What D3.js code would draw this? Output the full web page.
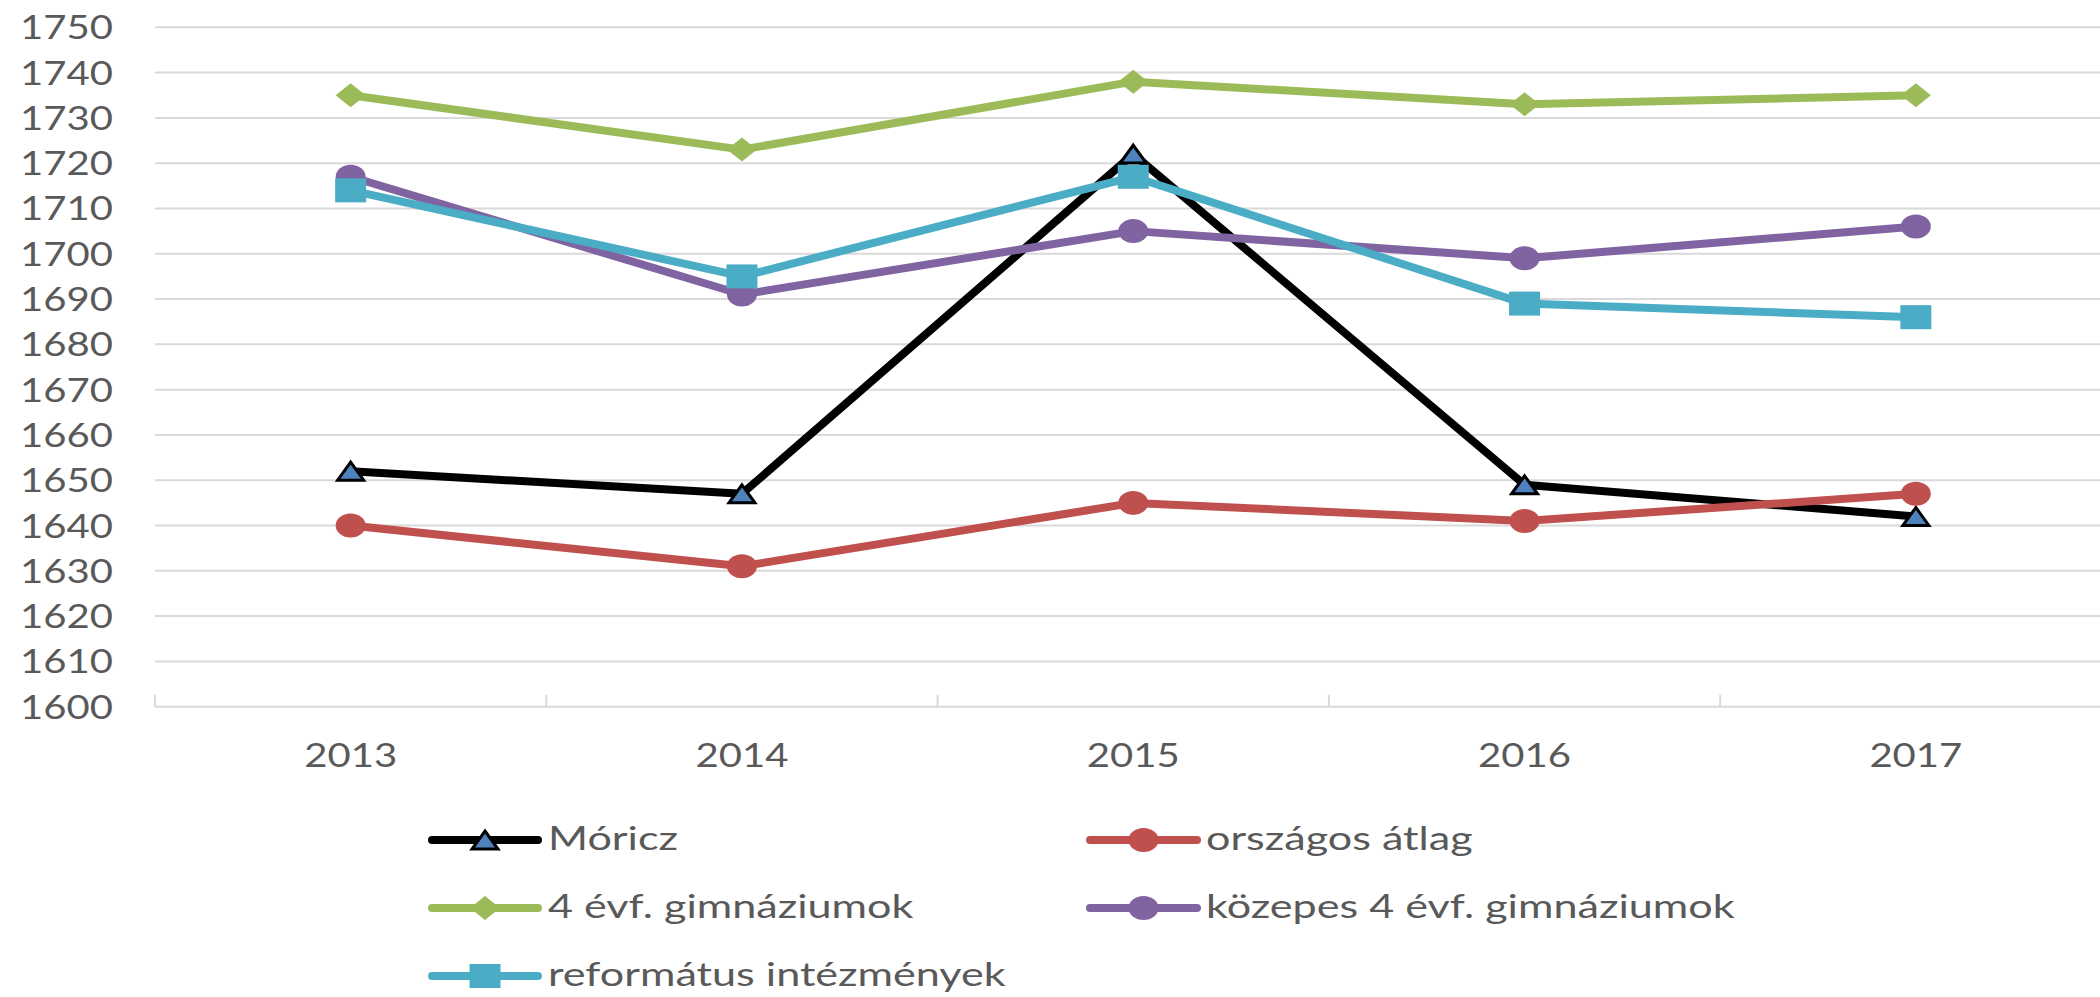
<!DOCTYPE html>
<html>
<head>
<meta charset="utf-8">
<script src="https://cdn.jsdelivr.net/npm/d3@7"></script>
<style>
  html, body { margin: 0; padding: 0; background: #ffffff; overflow: hidden; }
  svg { display: block; }
  text { font-family: Lato, "Open Sans", sans-serif; fill: #595959; }
</style>
</head>
<body>
<svg id="chart" width="2100" height="997"></svg>
<script>
// ---- data ----
const years = ["2013", "2014", "2015", "2016", "2017"];
const yTickValues = [1600, 1610, 1620, 1630, 1640, 1650, 1660, 1670, 1680, 1690, 1700, 1710, 1720, 1730, 1740, 1750];
const seriesNames = ["Móricz", "országos átlag", "4 évf. gimnáziumok", "közepes 4 évf. gimnáziumok", "református intézmények"];
const moricz     = [1652, 1647, 1722, 1649, 1642];
const orszagos   = [1640, 1631, 1645, 1641, 1647];
const gimn4      = [1735, 1723, 1738, 1733, 1735];
const kozepes    = [1717, 1691, 1705, 1699, 1706];
const reformatus = [1714, 1695, 1717, 1689, 1686];
const seriesValues = [moricz, orszagos, gimn4, kozepes, reformatus];
const seriesColors = ["#000000", "#C0504D", "#9BBB59", "#8064A2", "#4BACC6"];
const seriesMarkers = ["triangle", "circle", "diamond", "circle", "square"];

// ---- layout ----
const svg = d3.select("#chart");
const plotLeft = 155, bandW = 391.3;
const plotRight = plotLeft + bandW * years.length;
const yTop = 27.3, yBottom = 706.7;

const x = d3.scaleBand().domain(years).range([plotLeft, plotRight]).padding(0);
const y = d3.scaleLinear().domain([1600, 1750]).range([yBottom, yTop]);
const cx = d => x(d) + x.bandwidth() / 2;

const gridColor = "#D9D9D9";

function stretchedText(parent, str, tx, ty, size, anchor, sx) {
  const g = parent.append("g").attr("transform", `translate(${tx},${ty}) scale(${sx},1)`);
  return g.append("text").attr("x", 0).attr("y", 0)
    .attr("font-size", size).attr("text-anchor", anchor).text(str);
}
function measure(str, size) {
  const t = svg.append("text").attr("font-size", size).text(str);
  const w = t.node().getComputedTextLength();
  t.remove();
  return w;
}

const axisFont = 33.5;
const axisSx = 93 / measure("1750", axisFont);
const legendFont = 32;
const legendSx = 529 / measure("közepes 4 évf. gimnáziumok", legendFont);

// gridlines
svg.append("g").selectAll("line")
  .data(yTickValues.filter(v => v !== 1600))
  .join("line")
  .attr("x1", plotLeft).attr("x2", plotRight)
  .attr("y1", d => y(d)).attr("y2", d => y(d))
  .attr("stroke", gridColor).attr("stroke-width", 2);

// x axis line and ticks
svg.append("line")
  .attr("x1", plotLeft).attr("x2", plotRight)
  .attr("y1", y(1600)).attr("y2", y(1600))
  .attr("stroke", gridColor).attr("stroke-width", 2);
const tickPos = years.map(d => x(d)).concat([plotRight]);
svg.append("g").selectAll("line").data(tickPos).join("line")
  .attr("x1", d => d).attr("x2", d => d)
  .attr("y1", y(1600)).attr("y2", y(1600) - 12)
  .attr("stroke", gridColor).attr("stroke-width", 2);

// y labels
const yl = svg.append("g");
yTickValues.forEach(v => stretchedText(yl, String(v), 113, y(v) + 12, axisFont, "end", axisSx));

// x labels
const xl = svg.append("g");
years.forEach(d => stretchedText(xl, d, cx(d), 767, axisFont, "middle", axisSx));

// markers
function drawMarker(parent, type, color, px, py) {
  if (type === "triangle") {
    parent.append("path")
      .attr("d", `M${px},${py - 9} L${px + 13},${py + 9} L${px - 13},${py + 9} Z`)
      .attr("fill", "#4F81BD").attr("stroke", "#000").attr("stroke-width", 3)
      .attr("stroke-linejoin", "miter");
  } else if (type === "circle") {
    parent.append("ellipse").attr("cx", px).attr("cy", py)
      .attr("rx", 15).attr("ry", 12).attr("fill", color);
  } else if (type === "diamond") {
    parent.append("path")
      .attr("d", `M${px},${py - 12} L${px + 15},${py} L${px},${py + 12} L${px - 15},${py} Z`)
      .attr("fill", color);
  } else if (type === "square") {
    parent.append("rect").attr("x", px - 15.5).attr("y", py - 12)
      .attr("width", 31).attr("height", 24).attr("fill", color);
  }
}

// series
const line = d3.line().x((d, i) => cx(years[i])).y(d => y(d));
seriesValues.forEach((vals, si) => {
  const g = svg.append("g");
  g.append("path").datum(vals)
    .attr("d", line)
    .attr("fill", "none")
    .attr("stroke", seriesColors[si])
    .attr("stroke-width", 8)
    .attr("stroke-linejoin", "round")
    .attr("stroke-linecap", "round");
  vals.forEach((v, i) => drawMarker(g, seriesMarkers[si], seriesColors[si], cx(years[i]), y(v)));
});

// legend
const legendCols = [{x1: 432, x2: 538, tx: 548}, {x1: 1090, x2: 1197, tx: 1206}];
const legendRows = [840, 908, 976];
const lg = svg.append("g");
seriesNames.forEach((name, si) => {
  const col = legendCols[si % 2];
  const ry = legendRows[Math.floor(si / 2)];
  lg.append("line")
    .attr("x1", col.x1).attr("x2", col.x2).attr("y1", ry).attr("y2", ry)
    .attr("stroke", seriesColors[si]).attr("stroke-width", 8)
    .attr("stroke-linecap", "round");
  drawMarker(lg, seriesMarkers[si], seriesColors[si], (col.x1 + col.x2) / 2, ry);
  stretchedText(lg, name, col.tx, ry + 10, legendFont, "start", legendSx);
});
</script>
</body>
</html>
